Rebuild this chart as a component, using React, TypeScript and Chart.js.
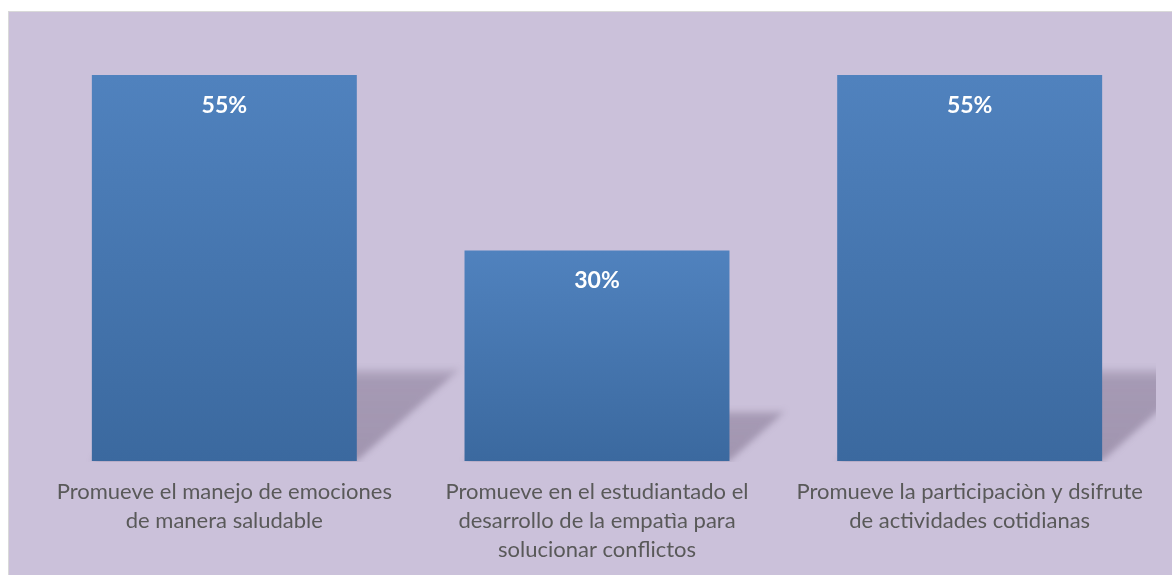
import React, { useEffect, useRef } from "react";
import { Chart, registerables } from "chart.js";

Chart.register(...registerables);

const categories: string[][] = [
  ["Promueve el manejo de emociones", "de manera saludable"],
  ["Promueve en el estudiantado el", "desarrollo de la empatìa para", "solucionar conflictos"],
  ["Promueve la participaciòn y dsifrute", "de actividades cotidianas"],
];
const values: number[] = [55, 30, 55];
const valueLabels: string[] = ["55%", "30%", "55%"];

const FONT = "Lato, 'Open Sans', sans-serif";

const shadowPlugin = {
  id: "barShadow",
  beforeDatasetsDraw(chart: any) {
    const ctx = chart.ctx;
    const meta = chart.getDatasetMeta(0);
    const area = chart.chartArea;
    meta.data.forEach((bar: any) => {
      const half = bar.width / 2;
      const left = bar.x - half;
      const right = bar.x + half;
      const base = bar.base;
      const h = base - bar.y;
      const sh = h * 0.24;
      const dx = sh * 1.12;
      ctx.save();
      ctx.beginPath();
      ctx.rect(0, 0, area.right, base + 1);
      ctx.clip();
      ctx.filter = "blur(3px)";
      const g = ctx.createLinearGradient(0, base - sh, 0, base);
      g.addColorStop(0, "rgba(120, 106, 134, 0.15)");
      g.addColorStop(0.12, "rgba(120, 106, 134, 0.45)");
      g.addColorStop(1, "rgba(120, 106, 134, 0.5)");
      ctx.fillStyle = g;
      ctx.beginPath();
      ctx.moveTo(left, base);
      ctx.lineTo(right, base);
      ctx.lineTo(right + dx, base - sh);
      ctx.lineTo(left + dx, base - sh);
      ctx.closePath();
      ctx.fill();
      ctx.restore();
    });
  },
};

const labelPlugin = {
  id: "valueLabels",
  afterDatasetsDraw(chart: any) {
    const ctx = chart.ctx;
    const meta = chart.getDatasetMeta(0);
    ctx.save();
    ctx.fillStyle = "#FFFFFF";
    ctx.font = `bold 23px ${FONT}`;
    ctx.textAlign = "center";
    ctx.textBaseline = "middle";
    meta.data.forEach((bar: any, i: number) => {
      ctx.fillText(valueLabels[i], bar.x, bar.y + 30);
    });
    ctx.restore();
  },
};

export default function App() {
  const ref = useRef<HTMLCanvasElement | null>(null);
  useEffect(() => {
    if (!ref.current) return;
    const chart = new Chart(ref.current, {
      type: "bar",
      data: {
        labels: categories,
        datasets: [
          {
            data: values,
            backgroundColor: (c: any) => {
              const ch = c.chart;
              const ys = ch.scales?.y;
              if (!ys || typeof c.raw !== "number") return "#4A7AB5";
              const top = ys.getPixelForValue(c.raw);
              const base = ys.getPixelForValue(0);
              if (!isFinite(top) || !isFinite(base) || top === base) return "#4A7AB5";
              const g = ch.ctx.createLinearGradient(0, top, 0, base);
              g.addColorStop(0, "#5082BE");
              g.addColorStop(1, "#3B699F");
              return g;
            },
            borderWidth: 0,
            categoryPercentage: 1,
            barPercentage: 0.711,
          },
        ],
      },
      options: {
        responsive: false,
        animation: false,
        events: [],
        layout: { padding: { left: 29, right: 16, top: 28, bottom: -5 } },
        plugins: {
          legend: { display: false },
          tooltip: { enabled: false },
          title: { display: false },
        },
        scales: {
          x: {
            grid: { display: false, drawTicks: false },
            border: { display: false },
            ticks: {
              color: "#595959",
              padding: 16,
              maxRotation: 0,
              autoSkip: false,
              font: { family: FONT, size: 22, lineHeight: "29px" as any },
            },
          },
          y: {
            display: false,
            min: 0,
            max: 60,
          },
        },
      },
      plugins: [shadowPlugin, labelPlugin],
    });
    return () => chart.destroy();
  }, []);

  return (
    <div
      style={{
        position: "absolute",
        left: 8,
        top: 11,
        width: 1164,
        height: 564,
        boxSizing: "border-box",
        borderTop: "1px solid #D9D9D9",
        borderLeft: "1px solid #D9D9D9",
        background: "#CBC1DA",
      }}
    >
      <canvas ref={ref} width={1163} height={563} style={{ display: "block" }} />
    </div>
  );
}
